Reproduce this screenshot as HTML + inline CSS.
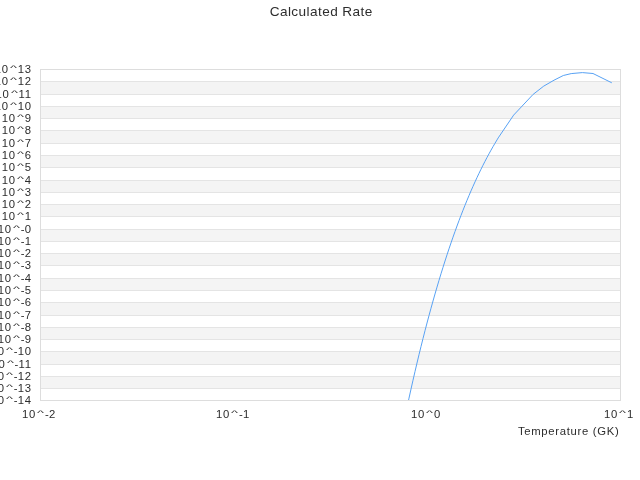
<!DOCTYPE html>
<html><head><meta charset="utf-8"><title>Calculated Rate</title>
<style>
html,body{margin:0;padding:0;background:#fff;}
body{width:640px;height:480px;position:relative;overflow:hidden;font-family:"Liberation Sans",sans-serif;color:#2d2d2d;}
svg{position:absolute;left:0;top:0;}
.txt{position:absolute;left:0;top:0;width:640px;height:480px;will-change:transform;}
.title{position:absolute;left:0;width:640px;top:0;height:20px;line-height:20px;font-size:13.6px;letter-spacing:.42px;white-space:nowrap;}
.title span{position:absolute;left:269.7px;top:2.4px;}
.yl,.xl,.xt{position:absolute;font-size:11.3px;letter-spacing:.72px;line-height:16px;height:16px;white-space:nowrap;}
.yl{right:608.3px;text-align:right;}
.xl{top:406px;}
.xt{right:20.5px;top:422.8px;letter-spacing:.7px;}
.c{display:inline-block;width:9px;text-align:center;letter-spacing:0;transform:translateY(0.0px) scale(1.32,.64);transform-origin:50% 4.5px;}
.h{letter-spacing:.24px;}
</style></head>
<body>
<svg width="640" height="480" viewBox="0 0 640 480">
<rect x="41" y="82" width="579" height="12" fill="#f4f4f4"/>
<rect x="41" y="107" width="579" height="11" fill="#f4f4f4"/>
<rect x="41" y="131" width="579" height="12" fill="#f4f4f4"/>
<rect x="41" y="156" width="579" height="11" fill="#f4f4f4"/>
<rect x="41" y="181" width="579" height="11" fill="#f4f4f4"/>
<rect x="41" y="205" width="579" height="11" fill="#f4f4f4"/>
<rect x="41" y="230" width="579" height="11" fill="#f4f4f4"/>
<rect x="41" y="254" width="579" height="11" fill="#f4f4f4"/>
<rect x="41" y="279" width="579" height="11" fill="#f4f4f4"/>
<rect x="41" y="303" width="579" height="12" fill="#f4f4f4"/>
<rect x="41" y="328" width="579" height="11" fill="#f4f4f4"/>
<rect x="41" y="352" width="579" height="12" fill="#f4f4f4"/>
<rect x="41" y="377" width="579" height="11" fill="#f4f4f4"/>
<line x1="40.5" x2="620.5" y1="81.5" y2="81.5" stroke="#e4e4e4" stroke-width="1"/>
<line x1="40.5" x2="620.5" y1="94.5" y2="94.5" stroke="#e4e4e4" stroke-width="1"/>
<line x1="40.5" x2="620.5" y1="106.5" y2="106.5" stroke="#e4e4e4" stroke-width="1"/>
<line x1="40.5" x2="620.5" y1="118.5" y2="118.5" stroke="#e4e4e4" stroke-width="1"/>
<line x1="40.5" x2="620.5" y1="130.5" y2="130.5" stroke="#e4e4e4" stroke-width="1"/>
<line x1="40.5" x2="620.5" y1="143.5" y2="143.5" stroke="#e4e4e4" stroke-width="1"/>
<line x1="40.5" x2="620.5" y1="155.5" y2="155.5" stroke="#e4e4e4" stroke-width="1"/>
<line x1="40.5" x2="620.5" y1="167.5" y2="167.5" stroke="#e4e4e4" stroke-width="1"/>
<line x1="40.5" x2="620.5" y1="180.5" y2="180.5" stroke="#e4e4e4" stroke-width="1"/>
<line x1="40.5" x2="620.5" y1="192.5" y2="192.5" stroke="#e4e4e4" stroke-width="1"/>
<line x1="40.5" x2="620.5" y1="204.5" y2="204.5" stroke="#e4e4e4" stroke-width="1"/>
<line x1="40.5" x2="620.5" y1="216.5" y2="216.5" stroke="#e4e4e4" stroke-width="1"/>
<line x1="40.5" x2="620.5" y1="229.5" y2="229.5" stroke="#e4e4e4" stroke-width="1"/>
<line x1="40.5" x2="620.5" y1="241.5" y2="241.5" stroke="#e4e4e4" stroke-width="1"/>
<line x1="40.5" x2="620.5" y1="253.5" y2="253.5" stroke="#e4e4e4" stroke-width="1"/>
<line x1="40.5" x2="620.5" y1="265.5" y2="265.5" stroke="#e4e4e4" stroke-width="1"/>
<line x1="40.5" x2="620.5" y1="278.5" y2="278.5" stroke="#e4e4e4" stroke-width="1"/>
<line x1="40.5" x2="620.5" y1="290.5" y2="290.5" stroke="#e4e4e4" stroke-width="1"/>
<line x1="40.5" x2="620.5" y1="302.5" y2="302.5" stroke="#e4e4e4" stroke-width="1"/>
<line x1="40.5" x2="620.5" y1="315.5" y2="315.5" stroke="#e4e4e4" stroke-width="1"/>
<line x1="40.5" x2="620.5" y1="327.5" y2="327.5" stroke="#e4e4e4" stroke-width="1"/>
<line x1="40.5" x2="620.5" y1="339.5" y2="339.5" stroke="#e4e4e4" stroke-width="1"/>
<line x1="40.5" x2="620.5" y1="351.5" y2="351.5" stroke="#e4e4e4" stroke-width="1"/>
<line x1="40.5" x2="620.5" y1="364.5" y2="364.5" stroke="#e4e4e4" stroke-width="1"/>
<line x1="40.5" x2="620.5" y1="376.5" y2="376.5" stroke="#e4e4e4" stroke-width="1"/>
<line x1="40.5" x2="620.5" y1="388.5" y2="388.5" stroke="#e4e4e4" stroke-width="1"/>
<rect x="40.5" y="69.5" width="580" height="331" fill="none" stroke="#dddddd" stroke-width="1"/>
<clipPath id="cp"><rect x="40" y="69" width="581" height="331"/></clipPath>
<path clip-path="url(#cp)" d="M405.00 416.82 L407.00 407.38 L409.00 398.14 L411.00 389.08 L413.00 380.21 L415.00 371.52 L417.00 363.01 L419.00 354.68 L421.00 346.52 L423.00 338.52 L425.00 330.70 L427.00 323.04 L429.00 315.54 L431.00 308.19 L433.00 301.01 L435.00 293.97 L437.00 287.09 L439.00 280.35 L441.00 273.76 L443.00 267.32 L445.00 261.01 L447.00 254.84 L449.00 248.81 L451.00 242.92 L453.00 237.15 L455.00 231.52 L457.00 226.01 L459.00 220.63 L461.00 215.38 L463.00 210.24 L465.00 205.23 L467.00 200.33 L469.00 195.55 L471.00 190.89 L473.00 186.34 L475.00 181.90 L477.00 177.57 L479.00 173.34 L481.00 169.23 L483.00 165.21 L485.00 161.30 L487.00 157.49 L489.00 153.79 L491.00 150.17 L493.00 146.66 L495.00 143.24 L497.00 139.92 L498.20 137.90 L513.65 115.10 L533.10 94.40 L543.75 86.10 L554.00 80.20 L563.30 75.50 L571.20 73.60 L582.40 72.60 L593.00 73.50 L611.80 82.80" fill="none" stroke="#58a2f4" stroke-width="1" stroke-linejoin="round"/>
</svg>
<div class="txt">
<div class="title"><span>Calculated Rate</span></div>
<div class="yl" style="top:61.1px">10<span class="c">^</span>13</div>
<div class="yl" style="top:73.1px">10<span class="c">^</span>12</div>
<div class="yl" style="top:86.1px">10<span class="c">^</span>11</div>
<div class="yl" style="top:98.1px">10<span class="c">^</span>10</div>
<div class="yl" style="top:110.1px">10<span class="c">^</span>9</div>
<div class="yl" style="top:122.1px">10<span class="c">^</span>8</div>
<div class="yl" style="top:135.1px">10<span class="c">^</span>7</div>
<div class="yl" style="top:147.1px">10<span class="c">^</span>6</div>
<div class="yl" style="top:159.1px">10<span class="c">^</span>5</div>
<div class="yl" style="top:172.1px">10<span class="c">^</span>4</div>
<div class="yl" style="top:184.1px">10<span class="c">^</span>3</div>
<div class="yl" style="top:196.1px">10<span class="c">^</span>2</div>
<div class="yl" style="top:208.1px">10<span class="c">^</span>1</div>
<div class="yl" style="top:221.1px">10<span class="c">^</span><span class="h">-</span>0</div>
<div class="yl" style="top:233.1px">10<span class="c">^</span><span class="h">-</span>1</div>
<div class="yl" style="top:245.1px">10<span class="c">^</span><span class="h">-</span>2</div>
<div class="yl" style="top:257.1px">10<span class="c">^</span><span class="h">-</span>3</div>
<div class="yl" style="top:270.1px">10<span class="c">^</span><span class="h">-</span>4</div>
<div class="yl" style="top:282.1px">10<span class="c">^</span><span class="h">-</span>5</div>
<div class="yl" style="top:294.1px">10<span class="c">^</span><span class="h">-</span>6</div>
<div class="yl" style="top:307.1px">10<span class="c">^</span><span class="h">-</span>7</div>
<div class="yl" style="top:319.1px">10<span class="c">^</span><span class="h">-</span>8</div>
<div class="yl" style="top:331.1px">10<span class="c">^</span><span class="h">-</span>9</div>
<div class="yl" style="top:343.1px">10<span class="c">^</span><span class="h">-</span>10</div>
<div class="yl" style="top:356.1px">10<span class="c">^</span><span class="h">-</span>11</div>
<div class="yl" style="top:368.1px">10<span class="c">^</span><span class="h">-</span>12</div>
<div class="yl" style="top:380.1px">10<span class="c">^</span><span class="h">-</span>13</div>
<div class="yl" style="top:392.1px">10<span class="c">^</span><span class="h">-</span>14</div>
<div class="xl" style="left:22px">10<span class="c">^</span><span class="h">-</span>2</div>
<div class="xl" style="left:216px">10<span class="c">^</span><span class="h">-</span>1</div>
<div class="xl" style="left:411px">10<span class="c">^</span>0</div>
<div class="xl" style="left:604.1px">10<span class="c">^</span>1</div>
<div class="xt">Temperature (GK)</div>
</div>
</body></html>
